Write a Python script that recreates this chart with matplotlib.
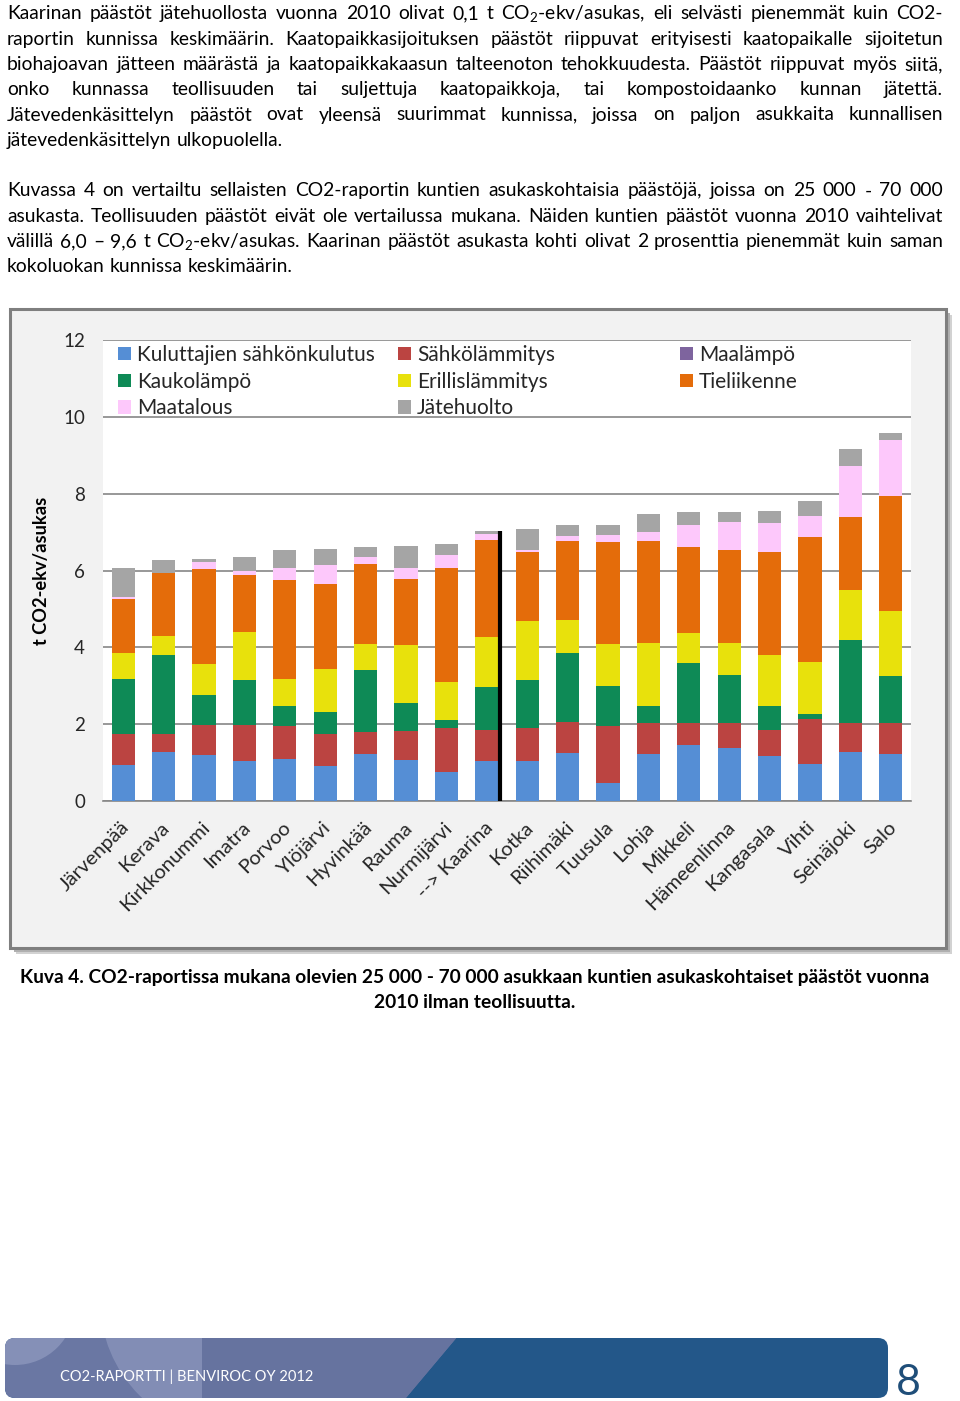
import matplotlib
matplotlib.use('Agg')
import matplotlib.pyplot as plt
import numpy as np
from matplotlib.patches import Rectangle, FancyBboxPatch, Polygon, Circle
from matplotlib.legend import Legend
from matplotlib.transforms import ScaledTranslation

FONT = 'Lato'
plt.rcParams['font.family'] = [FONT, 'DejaVu Sans']
plt.rcParams['mathtext.fontset'] = 'custom'
plt.rcParams['mathtext.rm'] = FONT
plt.rcParams['mathtext.default'] = 'regular'

# ---------------- data ----------------
categories = ["Järvenpää", "Kerava", "Kirkkonummi", "Imatra", "Porvoo", "Ylöjärvi",
              "Hyvinkää", "Rauma", "Nurmijärvi", "--> Kaarina", "Kotka", "Riihimäki",
              "Tuusula", "Lohja", "Mikkeli", "Hämeenlinna", "Kangasala", "Vihti",
              "Seinäjoki", "Salo"]
series_names = ["Kuluttajien sähkönkulutus", "Sähkölämmitys", "Maalämpö", "Kaukolämpö",
                "Erillislämmitys", "Tieliikenne", "Maatalous", "Jätehuolto"]
series_colors = ["#558ED5", "#BB4441", "#7E649E", "#0E8A56",
                 "#E8E10C", "#E46C0A", "#FDC8FB", "#A5A5A5"]
kuluttajien = [0.95, 1.27, 1.20, 1.05, 1.09, 0.90, 1.23, 1.08, 0.76, 1.04,
               1.05, 1.26, 0.48, 1.22, 1.45, 1.39, 1.17, 0.96, 1.28, 1.22]
sahkolammitys = [0.80, 0.47, 0.78, 0.92, 0.86, 0.85, 0.57, 0.75, 1.13, 0.80,
                 0.85, 0.80, 1.46, 0.80, 0.59, 0.63, 0.69, 1.17, 0.74, 0.80]
maalampo = [0.0, 0.0, 0.0, 0.0, 0.0, 0.0, 0.0, 0.0, 0.0, 0.0,
            0.0, 0.0, 0.0, 0.0, 0.0, 0.0, 0.0, 0.0, 0.0, 0.0]
kaukolampo = [1.43, 2.06, 0.79, 1.18, 0.53, 0.57, 1.60, 0.72, 0.22, 1.12,
              1.26, 1.78, 1.06, 0.46, 1.54, 1.26, 0.62, 0.13, 2.16, 1.24]
erillislammitys = [0.68, 0.50, 0.80, 1.24, 0.69, 1.11, 0.68, 1.52, 0.99, 1.32,
                   1.53, 0.87, 1.08, 1.62, 0.80, 0.83, 1.33, 1.35, 1.32, 1.68]
tieliikenne = [1.41, 1.64, 2.48, 1.50, 2.58, 2.22, 2.09, 1.70, 2.96, 2.52,
               1.79, 2.07, 2.66, 2.66, 2.24, 2.43, 2.67, 3.25, 1.90, 3.01]
maatalous = [0.03, 0.00, 0.16, 0.09, 0.32, 0.50, 0.17, 0.29, 0.34, 0.14,
             0.06, 0.12, 0.18, 0.23, 0.57, 0.71, 0.76, 0.56, 1.32, 1.44]
jatehuolto = [0.76, 0.33, 0.10, 0.36, 0.46, 0.41, 0.28, 0.58, 0.28, 0.08,
              0.55, 0.29, 0.27, 0.47, 0.32, 0.28, 0.32, 0.39, 0.45, 0.20]
yticks = [0, 2, 4, 6, 8, 10, 12]
ylabel = "t CO2-ekv/asukas"
marked_city = "--> Kaarina"

para1 = [
    "Kaarinan päästöt jätehuollosta vuonna 2010 olivat 0,1 t CO$_2$-ekv/asukas, eli selvästi pienemmät kuin CO2-",
    "raportin kunnissa keskimäärin. Kaatopaikkasijoituksen päästöt riippuvat erityisesti kaatopaikalle sijoitetun",
    "biohajoavan jätteen määrästä ja kaatopaikkakaasun talteenoton tehokkuudesta. Päästöt riippuvat myös siitä,",
    "onko kunnassa teollisuuden tai suljettuja kaatopaikkoja, tai kompostoidaanko kunnan jätettä.",
    "Jätevedenkäsittelyn päästöt ovat yleensä suurimmat kunnissa, joissa on paljon asukkaita kunnallisen",
    "jätevedenkäsittelyn ulkopuolella.",
]
para2 = [
    "Kuvassa 4 on vertailtu sellaisten CO2-raportin kuntien asukaskohtaisia päästöjä, joissa on 25 000 - 70 000",
    "asukasta. Teollisuuden päästöt eivät ole vertailussa mukana. Näiden kuntien päästöt vuonna 2010 vaihtelivat",
    "välillä 6,0 – 9,6 t CO$_2$-ekv/asukas. Kaarinan päästöt asukasta kohti olivat 2 prosenttia pienemmät kuin saman",
    "kokoluokan kunnissa keskimäärin.",
]
caption = ["Kuva 4. CO2-raportissa mukana olevien 25 000 - 70 000 asukkaan kuntien asukaskohtaiset päästöt vuonna",
           "2010 ilman teollisuutta."]
footer_text = "CO2-RAPORTTI | BENVIROC OY 2012"
page_no = "8"

series_values = [kuluttajien, sahkolammitys, maalampo, kaukolampo,
                 erillislammitys, tieliikenne, maatalous, jatehuolto]

# ---------------- figure ----------------
W, H = 960, 1401
fig = plt.figure(figsize=(W / 100, H / 100), dpi=100)
fig.patch.set_facecolor('white')
bg = fig.add_axes([0, 0, 1, 1])
bg.set_xlim(0, W)
bg.set_ylim(H, 0)
bg.axis('off')
bg.set_zorder(0)
R = fig.canvas.get_renderer()


def width_of(s, size, weight='normal'):
    t = bg.text(0, 0, s, fontsize=size, fontweight=weight)
    w = t.get_window_extent(R).width
    t.remove()
    return w


def fit(s, target, weight='normal'):
    return 20 * target / width_of(s, 20, weight)


body_size = 0.5 * (fit("jätevedenkäsittelyn ulkopuolella.", 278) +
                   fit("kokoluokan kunnissa keskimäärin.", 286))


def draw_par(lines, baselines, size, x0=7, x1=943):
    sp = width_of('a a', size) - width_of('aa', size)
    for i, (line, yb) in enumerate(zip(lines, baselines)):
        words = line.split(' ')
        ws = [width_of(w, size) for w in words]
        last = (i == len(lines) - 1)
        gap = sp if (last or len(words) == 1) else (x1 - x0 - sum(ws)) / (len(words) - 1)
        x = x0
        for wd_text, wd in zip(words, ws):
            bg.text(x, yb, wd_text, fontsize=size, ha='left', va='baseline', color='black')
            x += wd + gap


draw_par(para1, [19.3, 44.6, 69.9, 95.2, 120.5, 145.8], body_size)
draw_par(para2, [196.3, 221.6, 246.9, 272.2], body_size)

# chart frame with shadow
for off, col in [(6, '#d2d2d2'), (4, '#b0b0b0')]:
    bg.add_patch(Rectangle((10 + off, 309 + off), 936, 639, facecolor=col,
                           edgecolor='none', zorder=1))
bg.add_patch(Rectangle((10, 309), 936, 639, facecolor='#F2F2F2',
                       edgecolor='#7F7F7F', lw=2.2, zorder=2))

# caption
cap_size = fit(caption[0], 914, 'bold')
bg.text(475, 983, caption[0], fontsize=cap_size, fontweight='bold', ha='center', va='baseline')
bg.text(475, 1008, caption[1], fontsize=cap_size, fontweight='bold', ha='center', va='baseline')

# footer banner
banner = FancyBboxPatch((5, 1338), 883, 60, boxstyle='round,pad=0,rounding_size=10',
                        facecolor='#235789', edgecolor='none', zorder=2)
bg.add_patch(banner)
left = Polygon([(0, 1330), (463, 1330), (400, 1405), (0, 1405)], closed=True,
               facecolor='#6A77A3', edgecolor='none', zorder=3)
bg.add_patch(left)
left.set_clip_path(banner)
for (cx, cy, r, col) in [(235, 1300, 135, '#8792B9'), (15, 1305, 60, '#8A95BB')]:
    c = Circle((cx, cy), r, facecolor=col, edgecolor='none', alpha=0.85, zorder=4)
    bg.add_patch(c)
    c.set_clip_path(banner)
cover = Polygon([(202, 1330), (463, 1330), (400, 1405), (202, 1405)], closed=True,
                facecolor='#66739F', edgecolor='none', zorder=5)
bg.add_patch(cover)
cover.set_clip_path(banner)
bg.text(60, 1381, footer_text, fontsize=fit(footer_text, 253), color='white',
        ha='left', va='baseline', zorder=6)
bg.text(908, 1383, page_no, fontsize=31, color='#1F4E79', ha='center', va='center', zorder=6)

# ---------------- chart ----------------
ax = fig.add_axes([103 / W, 1 - 801 / H, 808 / W, 461 / H])
ax.set_zorder(2)
ax.set_facecolor('white')
n = len(categories)
x = np.arange(n)
bottom = np.zeros(n)
bars = []
for name, vals, col in zip(series_names, series_values, series_colors):
    b = ax.bar(x, vals, width=0.575, bottom=bottom, color=col, label=name,
               zorder=3, linewidth=0)
    bars.append(b)
    bottom = bottom + np.array(vals)
totals = bottom

ax.set_xlim(-0.5, n - 0.5)
ax.set_ylim(0, 12)
ax.set_yticks(yticks)
ax.yaxis.grid(True, color='#868686', lw=1.2, zorder=0)
ax.set_axisbelow(True)
for s in ['top', 'right', 'left']:
    ax.spines[s].set_visible(False)
ax.spines['bottom'].set_color('#868686')
ax.spines['bottom'].set_linewidth(1.2)

tick_size = 13.5
ax.tick_params(axis='y', length=0, pad=13, labelcolor='#262626', labelsize=tick_size)
xl_size = fit("Kirkkonummi", 119)
ax.set_xticks(x)
ax.set_xticklabels(categories, rotation=45, ha='right', va='center',
                   rotation_mode='anchor', fontsize=xl_size, color='#262626')
ax.tick_params(axis='x', length=0, pad=17)
for lab in ax.get_xticklabels():
    lab.set_transform(lab.get_transform() + ScaledTranslation(3 / 100, 0, fig.dpi_scale_trans))

ax.set_ylabel(ylabel, fontweight='bold', fontsize=fit(ylabel, 148, 'bold'),
              va='center', color='black')
ax.yaxis.set_label_coords((42 - 103) / 808, (801 - 571) / 461)

# separator line after Kaarina
ki = categories.index(marked_city)
ax.plot([ki + 0.33, ki + 0.33], [0, totals[ki]], color='black', lw=3, zorder=4,
        solid_capstyle='butt')

# legend (three columns, row-wise order like Excel)
leg_size = fit("Kuluttajien sähkönkulutus", 239)
cols = [[0, 3, 6], [1, 4, 7], [2, 5]]
col_x = [118, 398, 680]
for ci, idxs in enumerate(cols):
    leg = Legend(ax, [bars[i] for i in idxs], [series_names[i] for i in idxs],
                 loc='upper left', bbox_to_anchor=((col_x[ci] - 103) / 808, (801 - 345) / 461),
                 frameon=False, borderpad=0, borderaxespad=0, handlelength=0.6,
                 handleheight=0.6, handletextpad=0.3, labelspacing=0.32,
                 prop={'size': leg_size}, labelcolor='#262626')
    ax.add_artist(leg)

fig.savefig('out.png', dpi=100)
